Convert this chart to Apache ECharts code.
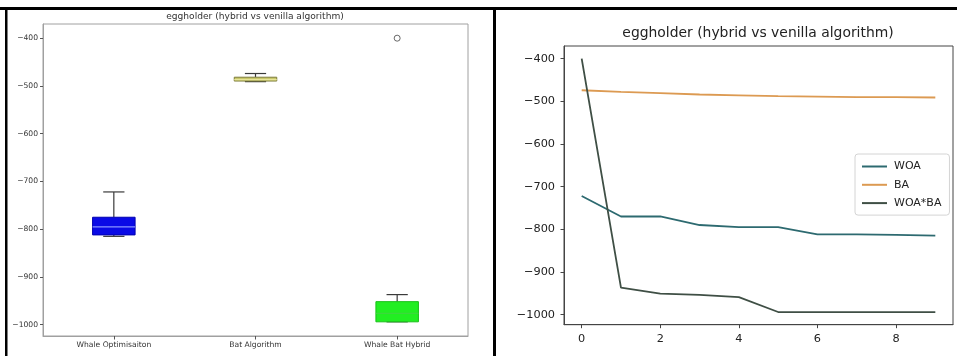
<!DOCTYPE html>
<html>
<head>
<meta charset="utf-8">
<script src="https://cdn.jsdelivr.net/npm/echarts@6/dist/echarts.min.js"></script>
<style>
  html, body { margin: 0; padding: 0; background: #fff; }
  #chart { width: 957px; height: 356px; }
</style>
</head>
<body>
<div id="chart"></div>
<script>
// Best fitness per iteration for each optimiser on the eggholder function
const iterations = [0, 1, 2, 3, 4, 5, 6, 7, 8, 9];
const woa    = [-722, -770, -770, -790, -795, -795, -812, -812, -813, -815];
const ba     = [-474, -478, -481, -484, -486, -488, -489, -490, -490, -491];
const hybrid = [-400, -937, -951, -954, -959, -994, -994, -994, -994, -994];

const seriesNames   = ['WOA', 'BA', 'WOA*BA'];
const boxCategories = ['Whale Optimisaiton', 'Bat Algorithm', 'Whale Bat Hybrid'];
const yTicks = [-1000, -900, -800, -700, -600, -500, -400];
const xTicks = [0, 2, 4, 6, 8];
const yRange = [-1023.7, -370.3];
const xRange = [-0.45, 9.45];

const FONT = 'DejaVu Sans';
const lineColors = ['#2d6a70', '#dc9a52', '#3f4f45'];
const boxColors = [
  { fill: '#0a0ae6', edge: '#0000b0', median: '#8a94ff' },
  { fill: '#c9c86a', edge: '#7d7c3a', median: '#e6e49a' },
  { fill: '#22ee22', edge: '#18c018', median: '#3cd83c' }
];

// numpy-style linear percentile
function quantile(arr, p) {
  const s = [...arr].sort((a, b) => a - b);
  const pos = (s.length - 1) * p;
  const lo = Math.floor(pos), hi = Math.ceil(pos);
  return s[lo] + (s[hi] - s[lo]) * (pos - lo);
}
// box statistics with 1.5*IQR whiskers, plus outliers
function boxStats(arr) {
  const q1 = quantile(arr, 0.25), med = quantile(arr, 0.5), q3 = quantile(arr, 0.75);
  const iqr = q3 - q1;
  const inside = arr.filter(v => v >= q1 - 1.5 * iqr && v <= q3 + 1.5 * iqr);
  const outliers = arr.filter(v => v < q1 - 1.5 * iqr || v > q3 + 1.5 * iqr);
  return { box: [Math.min(...inside), q1, med, q3, Math.max(...inside)], outliers };
}

const groups = [woa, ba, hybrid].map(boxStats);
const boxData = groups.map((g, i) => [i, ...g.box]);
const outlierData = [];
groups.forEach((g, i) => g.outliers.forEach(v => outlierData.push([i, v])));

const minus = v => String(v).replace('-', '\u2212');

function renderBox(params, api) {
  const idx = api.value(0);
  const [mn, q1, med, q3, mx] = [1, 2, 3, 4, 5].map(k => api.value(k));
  const band = api.size([1, 0])[0];
  const bw = band * 0.3, cw = bw / 2;
  const cx = api.coord([idx, med])[0];
  const y = v => api.coord([idx, v])[1];
  const c = boxColors[idx];
  const wStyle = { stroke: '#3a3a3a', lineWidth: 1.2 };
  return {
    type: 'group',
    children: [
      { type: 'line', shape: { x1: cx, y1: y(q3), x2: cx, y2: y(mx) }, style: wStyle },
      { type: 'line', shape: { x1: cx, y1: y(q1), x2: cx, y2: y(mn) }, style: wStyle },
      { type: 'line', shape: { x1: cx - cw / 2, y1: y(mx), x2: cx + cw / 2, y2: y(mx) }, style: wStyle },
      { type: 'line', shape: { x1: cx - cw / 2, y1: y(mn), x2: cx + cw / 2, y2: y(mn) }, style: wStyle },
      { type: 'rect', shape: { x: cx - bw / 2, y: y(q3), width: bw, height: y(q1) - y(q3) },
        style: { fill: c.fill, stroke: c.edge, lineWidth: 1 } },
      { type: 'line', shape: { x1: cx - bw / 2, y1: y(med), x2: cx + bw / 2, y2: y(med) },
        style: { stroke: c.median, lineWidth: 1.2 } }
    ]
  };
}

const chart = echarts.init(document.getElementById('chart'), null, { renderer: 'canvas' });

const tickStyle = (len, color) => ({ show: true, inside: false, length: len, lineStyle: { color, width: 1 } });

chart.setOption({
  animation: false,
  backgroundColor: '#fff',
  textStyle: { fontFamily: FONT },
  grid: [
    { left: 43, top: 24, width: 425, height: 312, show: true, borderColor: '#a0a0a0', borderWidth: 1,
      backgroundColor: 'transparent', outerBoundsMode: 'none', containLabel: false },
    { left: 564, top: 46, width: 389, height: 278.7, show: true, borderColor: '#444', borderWidth: 1,
      backgroundColor: 'transparent', outerBoundsMode: 'none', containLabel: false }
  ],
  xAxis: [
    { type: 'category', gridIndex: 0, data: boxCategories, boundaryGap: true,
      axisLine: { show: true, lineStyle: { color: '#a0a0a0' } },
      axisTick: Object.assign(tickStyle(3.5, '#555'), { alignWithLabel: true }),
      axisLabel: { color: '#333', fontSize: 7.6, fontFamily: FONT, margin: 5 },
      splitLine: { show: false } },
    { type: 'value', gridIndex: 1, min: xRange[0], max: xRange[1],
      axisLine: { show: true, onZero: false, lineStyle: { color: '#444' } },
      axisTick: Object.assign(tickStyle(3.5, '#444'), { customValues: xTicks }),
      axisLabel: { color: '#222', fontSize: 11.3, fontFamily: FONT, margin: 9, customValues: xTicks,
        formatter: v => minus(v) },
      splitLine: { show: false } }
  ],
  yAxis: [
    { type: 'value', gridIndex: 0, min: yRange[0], max: yRange[1],
      axisLine: { show: true, onZero: false, lineStyle: { color: '#a0a0a0' } },
      axisTick: Object.assign(tickStyle(3, '#555'), { customValues: yTicks }),
      axisLabel: { color: '#333', fontSize: 7.6, fontFamily: FONT, margin: 5, customValues: yTicks,
        formatter: v => minus(v) },
      splitLine: { show: false } },
    { type: 'value', gridIndex: 1, min: yRange[0], max: yRange[1],
      axisLine: { show: true, onZero: false, lineStyle: { color: '#444' } },
      axisTick: Object.assign(tickStyle(3.5, '#444'), { customValues: yTicks }),
      axisLabel: { color: '#222', fontSize: 11.3, fontFamily: FONT, margin: 9, customValues: yTicks,
        formatter: v => minus(v) },
      splitLine: { show: false } }
  ],
  legend: {
    data: seriesNames,
    orient: 'vertical',
    left: 855, top: 154,
    icon: 'rect', itemWidth: 25, itemHeight: 2, itemGap: 7.3,
    padding: [7, 8, 6.5, 7],
    backgroundColor: '#fff', borderColor: '#d4d4d4', borderWidth: 1, borderRadius: 3,
    textStyle: { fontFamily: FONT, fontSize: 11, color: '#222', padding: [0, 0, 0, 2] }
  },
  graphic: [
    { type: 'rect', shape: { x: 0, y: 7, width: 957, height: 3 }, style: { fill: '#000' } },
    { type: 'rect', shape: { x: 5, y: 7, width: 2.5, height: 349 }, style: { fill: '#000' } },
    { type: 'rect', shape: { x: 493, y: 7, width: 3, height: 349 }, style: { fill: '#000' } },
    { type: 'text', style: { x: 255, y: 16.5, text: 'eggholder (hybrid vs venilla algorithm)',
      fill: '#333', font: '9.1px "DejaVu Sans"', textAlign: 'center', textVerticalAlign: 'middle' } },
    { type: 'text', style: { x: 758, y: 33, text: 'eggholder (hybrid vs venilla algorithm)',
      fill: '#222', font: '13.9px "DejaVu Sans"', textAlign: 'center', textVerticalAlign: 'middle' } }
  ],
  series: [
    { type: 'custom', xAxisIndex: 0, yAxisIndex: 0, renderItem: renderBox, data: boxData,
      encode: { x: 0, y: [1, 2, 3, 4, 5] }, silent: true },
    { type: 'scatter', xAxisIndex: 0, yAxisIndex: 0, data: outlierData, symbol: 'circle', symbolSize: 6,
      itemStyle: { color: '#fff', borderColor: '#444', borderWidth: 1 }, silent: true },
    { name: seriesNames[0], type: 'line', xAxisIndex: 1, yAxisIndex: 1, showSymbol: false,
      data: iterations.map((x, i) => [x, woa[i]]), lineStyle: { width: 1.8, color: lineColors[0] },
      itemStyle: { color: lineColors[0] } },
    { name: seriesNames[1], type: 'line', xAxisIndex: 1, yAxisIndex: 1, showSymbol: false,
      data: iterations.map((x, i) => [x, ba[i]]), lineStyle: { width: 1.8, color: lineColors[1] },
      itemStyle: { color: lineColors[1] } },
    { name: seriesNames[2], type: 'line', xAxisIndex: 1, yAxisIndex: 1, showSymbol: false,
      data: iterations.map((x, i) => [x, hybrid[i]]), lineStyle: { width: 1.8, color: lineColors[2] },
      itemStyle: { color: lineColors[2] } }
  ]
});
</script>
</body>
</html>
